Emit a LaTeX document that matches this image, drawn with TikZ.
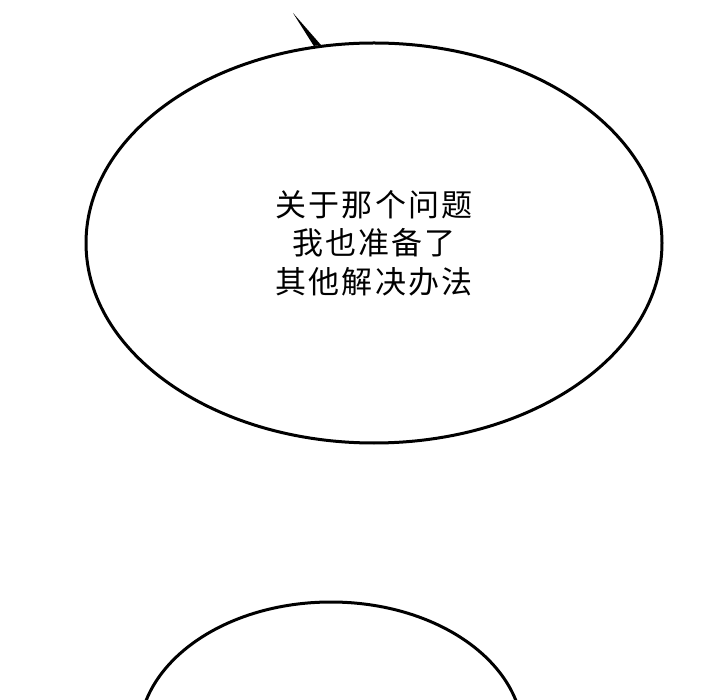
\documentclass[tikz,border=0pt]{standalone}
\usepackage{fontspec}
\usetikzlibrary{shapes.geometric}
\newfontfamily\cjk[LetterSpace=7]{Noto Sans CJK SC}
\tikzset{
  bubble/.style={draw=black, line width=3pt, ellipse, fill=white, inner sep=0pt},
  bubbletext/.style={align=center, font=\cjk\fontsize{31}{38.5}\selectfont}
}

\begin{document}
\begin{tikzpicture}[x=1pt,y=-1pt]
	\useasboundingbox (0,0) rectangle (720,700);
	\clip (0,0) rectangle (720,700);
	% upper speech bubble
	\node[bubble, bubbletext, minimum width=576pt, minimum height=400pt] (upper) at (374,243)
		{关于那个问题\\我也准备了\\其他解决办法};
	% tail of the upper bubble
	\coordinate (tailtip) at (293,13);
	\fill[black] (tailtip) -- (upper.107.3) -- (upper.105.4) -- cycle;
	% lower speech bubble, cut off at the bottom
	\node[bubble, minimum width=384pt, minimum height=270pt] (lower) at (331,737) {};
\end{tikzpicture}
\end{document}
